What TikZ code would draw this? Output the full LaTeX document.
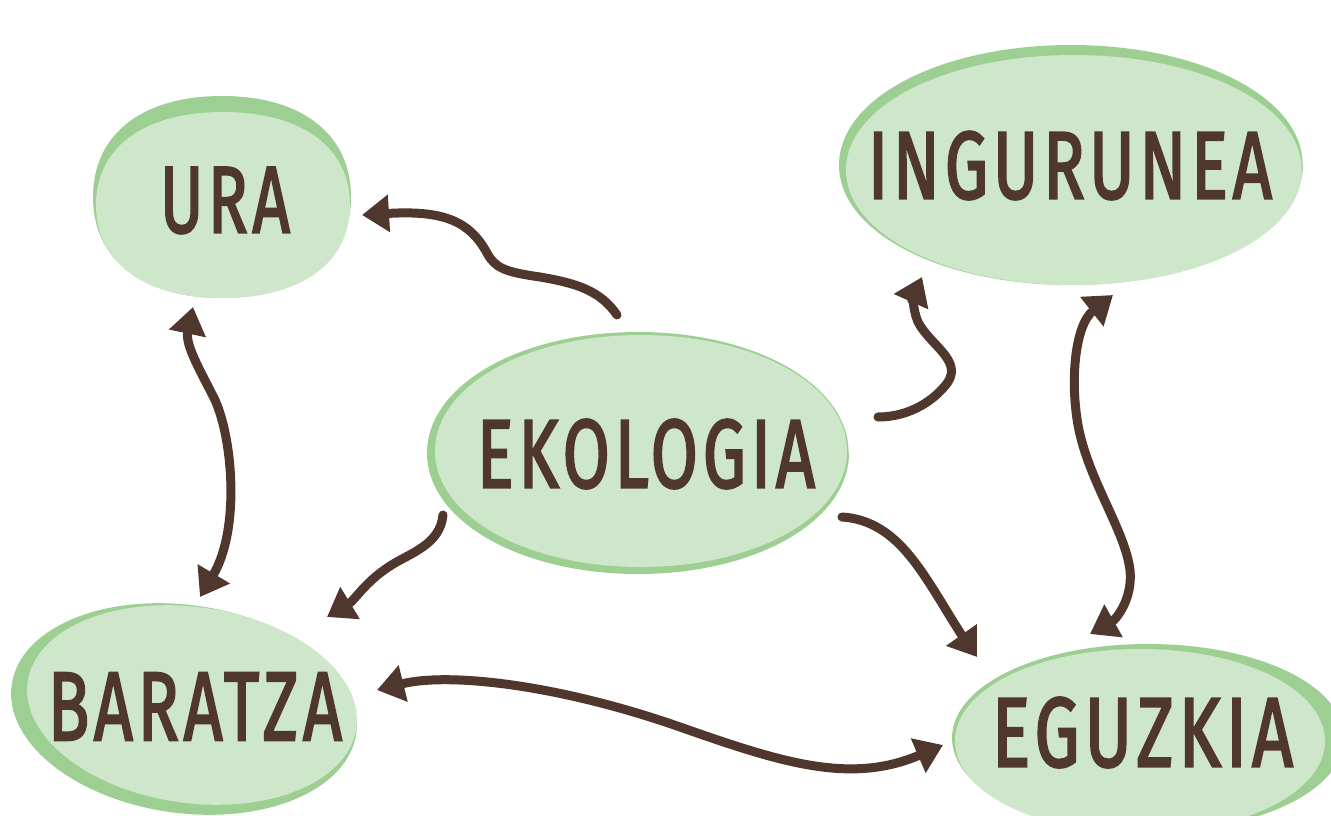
\documentclass[tikz,border=0pt]{standalone}
\usepackage{fontspec}
\setmainfont{Fira Sans}
\newfontfamily\wordfont{Fira Sans}[LetterSpace=7, FakeBold=2.6]
\usetikzlibrary{arrows.meta}
\definecolor{blobfill}{HTML}{CEE6CA}
\definecolor{blobshade}{HTML}{9DCF92}
\definecolor{ink}{HTML}{50372E}
\tikzset{
  blobk/.store in=\blobk, blobk=0.56,
  blobpic/.pic={
    \path[pic actions] (1,0) .. controls (1,\blobk) and (\blobk,1) .. (0,1)
      .. controls (-\blobk,1) and (-1,\blobk) .. (-1,0)
      .. controls (-1,-\blobk) and (-\blobk,-1) .. (0,-1)
      .. controls (\blobk,-1) and (1,-\blobk) .. cycle;
  },
  shade/.style={fill=blobshade},
  lite/.style={fill=blobfill},
  word/.style={inner sep=0pt, text=ink, font=\wordfont},
  conn/.style={draw=ink, line width=9pt, line cap=round, line join=round},
  tip/.tip={Triangle[length=27pt,width=36pt]},
}
\begin{document}
\begin{tikzpicture}[x=1pt,y=-1pt]
\useasboundingbox (0,0) rectangle (1331,816);
\clip (0,0) rectangle (1331,816);
% blobs
\pic[shade, blobk=0.62, xscale=129, yscale=101] at (222,197) {blobpic};
\pic[lite, blobk=0.62, xscale=127, yscale=93] at (223,205) {blobpic};
\pic[shade, xscale=232, yscale=120] at (1071,165) {blobpic};
\pic[lite, xscale=228, yscale=115] at (1074,170) {blobpic};
\pic[shade, xscale=211, yscale=121] at (638,453) {blobpic};
\pic[lite, xscale=206, yscale=116] at (641,451) {blobpic};
\fill[shade, rotate around={-8:(184,709)}] (184,709) ellipse [x radius=174, y radius=104];
\fill[lite, rotate around={-8:(192,705)}] (192,705) ellipse [x radius=166, y radius=98];
\pic[shade, xscale=196, yscale=94] at (1148,738) {blobpic};
\pic[lite, xscale=185, yscale=92] at (1140,741) {blobpic};
% words
\node[word] (ura) at (225,200.5) {\resizebox{130pt}{65pt}{URA}};
\node[word] (ingurunea) at (1070,165.5) {\resizebox{404pt}{67pt}{INGURUNEA}};
\node[word] (ekologia) at (646,454) {\resizebox{338pt}{68pt}{EKOLOGIA}};
\node[word] (baratza) at (195,706.5) {\resizebox{294pt}{67pt}{BARATZA}};
\node[word] (eguzkia) at (1142.5,732.5) {\resizebox{301pt}{69pt}{EGUZKIA}};
% connector ends
\coordinate (ekoU) at (617,315);
\coordinate (uraE) at (362,215);
\coordinate (uraS) at (193,307);
\coordinate (barN) at (200,597);
\coordinate (ekoB) at (443,515);
\coordinate (barNE) at (327,617);
\coordinate (ekoI) at (878,417);
\coordinate (ingS) at (922,277);
\coordinate (ingS2) at (1113,295);
\coordinate (eguN) at (1090,634);
\coordinate (ekoG) at (842,517);
\coordinate (eguNW) at (977,657);
\coordinate (barE) at (377,690);
\coordinate (eguW) at (943,745);
% connectors
\path[conn, -tip] (ekoU) .. controls (600,290) and (575,283) .. (540,277)
  .. controls (505,272) and (495,268) .. (487,253)
  .. controls (470,222) and (445,210) .. (uraE);
\path[conn, tip-tip] (uraS) .. controls (185,345) and (200,370) .. (215,400)
  .. controls (233,440) and (240,530) .. (barN);
\path[conn, -tip] (ekoB) .. controls (440,545) and (410,553) .. (390,566)
  .. controls (365,582) and (355,600) .. (barNE);
\path[conn, -tip] (ekoI) .. controls (910,417) and (935,400) .. (948,382)
  .. controls (962,360) and (930,345) .. (918,322)
  .. controls (912,308) and (914,295) .. (ingS);
\path[conn, tip-tip] (ingS2) .. controls (1075,325) and (1070,380) .. (1078,425)
  .. controls (1088,480) and (1125,530) .. (1130,570)
  .. controls (1133,600) and (1115,620) .. (eguN);
\path[conn, -tip] (ekoG) .. controls (890,520) and (915,560) .. (940,600)
  .. controls (955,625) and (965,640) .. (eguNW);
\path[conn, tip-tip] (barE) .. controls (450,672) and (560,685) .. (680,727)
  .. controls (780,762) and (850,785) .. (eguW);
\end{tikzpicture}
\end{document}
